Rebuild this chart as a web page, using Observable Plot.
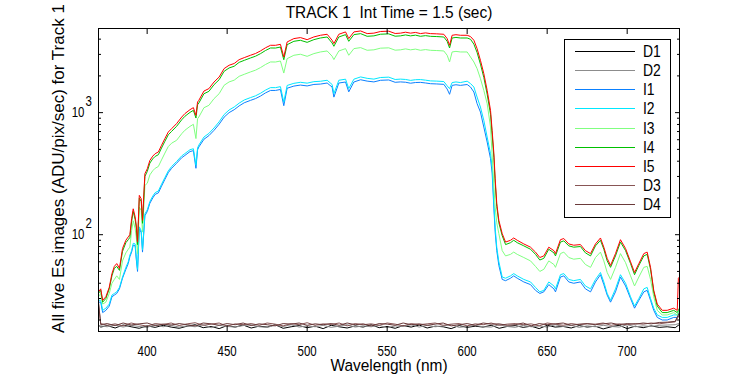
<!DOCTYPE html>
<html>
<head>
<meta charset="utf-8">
<script src="https://cdn.jsdelivr.net/npm/d3@7"></script>
<script src="https://cdn.jsdelivr.net/npm/@observablehq/plot@0.6"></script>
<style>
  html, body { margin: 0; padding: 0; background: #fff; }
  #chart { position: relative; width: 750px; height: 375px; overflow: hidden; }
  #chart > svg { position: absolute; left: 0; top: 0; }
  .legend { position: absolute; left: 564px; top: 39px; width: 107px; height: 179px; box-sizing: border-box;
    border: 1px solid #000; background: #fff; padding-top: 2px;
    font-family: "Liberation Sans", Arial, sans-serif; font-size: 17px; }
  .legend .row { display: flex; align-items: center; height: 19.15px; }
  .legend .row svg { display: block; margin-left: 10px; }
  .legend .row span { display: inline-block; margin-left: 8px; line-height: 1; transform: scaleX(0.82); transform-origin: 0 50%; }
</style>
</head>
<body>
<div id="chart"></div>
<script>
const titleText = "TRACK 1\u00a0 Int Time = 1.5 (sec)";
const xLabel = "Wavelength (nm)";
const yLabel = "All five Es images (ADU/pix/sec) for Track 1";
const xTicks = [400, 450, 500, 550, 600, 650, 700];
const yMajor = [100, 1000];
const yMinor = [20, 30, 40, 50, 60, 70, 80, 90, 200, 300, 400, 500, 600, 700, 800, 900, 2000, 3000, 4000];
const seriesNames = ["D1", "D2", "I1", "I2", "I3", "I4", "I5", "D3", "D4"];
const seriesColors = ["#000000", "#8c8c8c", "#0a80ff", "#00e8ff", "#80ff80", "#00c000", "#ff0000", "#885555", "#6b3a3a"];

const wavelength = [
369.6, 371.0, 372.2, 374.2, 376.3, 378.0, 379.5, 381.0, 382.7, 384.6,
386.7, 388.2, 389.2, 390.3, 391.3, 392.5, 393.2, 394.0, 395.1, 396.3,
397.1, 398.6, 400.1, 401.7, 403.5, 405.0, 407.0, 409.0, 411.1, 413.2,
415.3, 418.4, 421.6, 423.6, 426.8, 428.9, 430.5, 431.5, 432.3, 435.5,
438.6, 441.8, 445.0, 448.1, 451.2, 454.4, 457.5, 460.7, 464.6, 467.7,
470.8, 474.0, 477.1, 480.2, 483.3, 485.4, 487.5, 491.7, 495.8, 500.0,
504.2, 508.3, 512.5, 515.6, 516.7, 519.8, 524.0, 526.0, 529.2, 533.4,
537.5, 541.7, 545.8, 551.0, 555.0, 558.3, 561.5, 564.6, 567.7, 570.8,
574.0, 577.1, 581.0, 585.4, 587.5, 589.0, 590.6, 593.0, 595.8, 600.0,
602.1, 604.2, 606.2, 608.3, 610.4, 612.5, 614.6, 615.6, 616.7, 617.5,
618.5, 619.8, 621.9, 624.0, 627.1, 629.1, 631.3, 635.4, 639.6, 642.7,
645.4, 647.9, 651.0, 654.2, 655.2, 658.3, 660.4, 663.5, 666.6, 670.8,
673.9, 677.1, 680.2, 683.3, 685.4, 687.5, 689.6, 692.7, 695.8, 699.0,
702.1, 704.6, 707.3, 710.4, 712.5, 714.6, 716.6, 718.8, 721.9, 725.0,
729.1, 731.3, 732.0, 732.7];

const I5 = [
34, 36, 29, 31, 37, 48, 55, 58, 53, 77,
90, 96, 100, 135, 163, 140, 120, 87, 210, 197,
131, 316, 347, 406, 440, 461, 476, 540, 613, 693,
739, 813, 920, 982, 1058, 1099, 950, 1221, 1261, 1503,
1573, 1783, 1959, 2295, 2444, 2527, 2718, 2823, 2952, 3050,
3201, 3400, 3563, 3560, 3627, 2855, 3795, 4043, 4120, 3963,
4171, 4303, 4385, 3917, 3680, 4385, 4583, 4043, 4583, 4670,
4443, 4480, 4620, 4650, 4450, 4480, 4560, 4480, 4540, 4443,
4500, 4440, 4420, 4385, 4043, 3563, 4303, 4350, 4303, 4303,
4200, 3917, 3345, 2683, 2089, 1523, 1044, 715, 461, 290,
180, 131, 102, 87, 90, 94, 90, 84, 79, 72,
65, 67, 79, 74, 70, 91, 93, 84, 82, 83,
74, 70, 84, 94, 79, 64, 56, 70, 91, 77,
60, 49, 58, 70, 72, 54, 35, 27, 24, 24,
25, 24, 44, 45];

const I4 = [
33, 35, 28, 30, 36, 46, 53, 55, 51, 73,
86, 91, 95, 128, 155, 133, 114, 83, 200, 187,
124, 300, 330, 386, 418, 438, 452, 513, 582, 658,
702, 772, 874, 933, 1005, 1044, 903, 1160, 1198, 1428,
1494, 1694, 1861, 2180, 2322, 2400, 2582, 2682, 2804, 2898,
3041, 3230, 3385, 3382, 3446, 2712, 3605, 3841, 3914, 3765,
3962, 4088, 4166, 3721, 3496, 4166, 4354, 3841, 4354, 4437,
4221, 4256, 4389, 4418, 4228, 4256, 4332, 4256, 4313, 4221,
4275, 4218, 4199, 4166, 3841, 3385, 4088, 4133, 4088, 4088,
3990, 3640, 3110, 2495, 1943, 1416, 970, 665, 430, 270,
170, 125, 98, 83, 86, 90, 86, 81, 76, 69,
62, 64, 76, 71, 67, 87, 89, 81, 79, 80,
71, 67, 81, 90, 76, 61, 54, 67, 87, 74,
58, 47, 56, 67, 69, 52, 34, 26, 23, 23,
24, 23, 24, 25];

const I3 = [
31, 33, 27, 28, 33, 40, 43, 46, 43, 61,
71, 76, 79, 108, 130, 112, 96, 70, 168, 158,
105, 253, 264, 309, 334, 350, 362, 410, 466, 527,
562, 593, 672, 717, 772, 802, 613, 891, 920, 1097,
1148, 1302, 1430, 1675, 1784, 1845, 1984, 2061, 2155, 2227,
2337, 2482, 2601, 2599, 2648, 2110, 2770, 2951, 3008, 2893,
3045, 3141, 3201, 2900, 2720, 3201, 3346, 2951, 3346, 3409,
3243, 3270, 3373, 3395, 3249, 3270, 3329, 3270, 3314, 3243,
3285, 3241, 3227, 3201, 2951, 2600, 3141, 3176, 3141, 3141,
2855, 2600, 2295, 1900, 1523, 1185, 762, 450, 250, 168,
125, 102, 74, 67, 69, 72, 69, 65, 61, 55,
50, 52, 61, 57, 54, 70, 72, 65, 63, 64,
57, 54, 65, 72, 61, 49, 43, 54, 70, 59,
46, 38, 45, 54, 55, 43, 31, 24, 22, 22,
23, 22, 23, 24];

const I2 = [
29, 29, 24, 25, 27, 32, 33, 34, 37, 45,
54, 60, 68, 74, 85, 84, 66, 52, 116, 108,
75, 148, 160, 187, 207, 221, 228, 259, 294, 333,
362, 398, 442, 462, 497, 506, 370, 513, 542, 631,
676, 749, 842, 964, 1051, 1112, 1196, 1270, 1328, 1373,
1440, 1530, 1603, 1602, 1632, 1221, 1670, 1738, 1772, 1744,
1794, 1807, 1842, 1700, 1431, 1842, 1879, 1573, 1879, 1961,
1910, 1882, 1940, 1953, 1869, 1882, 1870, 1837, 1861, 1866,
1845, 1820, 1812, 1798, 1658, 1573, 1764, 1784, 1764, 1810,
1730, 1621, 1342, 1111, 865, 631, 461, 358, 179, 115,
79, 60, 45, 44, 46, 48, 46, 43, 41, 37,
34, 35, 41, 38, 36, 47, 48, 43, 42, 43,
38, 36, 43, 49, 41, 33, 29, 36, 47, 40,
31, 26, 30, 36, 37, 30, 25, 22, 21, 21,
22, 22, 23, 24];

const I1 = [
28, 28, 23, 24, 26, 31, 32, 33, 36, 44,
52, 58, 66, 72, 82, 81, 63, 50, 112, 104,
72, 143, 155, 181, 200, 214, 220, 250, 284, 322,
350, 385, 427, 446, 480, 488, 350, 495, 523, 605,
648, 716, 804, 918, 1000, 1057, 1136, 1205, 1260, 1303,
1366, 1452, 1520, 1520, 1548, 1140, 1585, 1650, 1682, 1655,
1702, 1714, 1748, 1620, 1340, 1748, 1782, 1480, 1782, 1860,
1812, 1785, 1840, 1852, 1772, 1785, 1774, 1742, 1765, 1770,
1750, 1726, 1718, 1705, 1560, 1413, 1672, 1692, 1672, 1700,
1620, 1475, 1185, 1011, 762, 574, 420, 320, 165, 105,
74, 56, 43, 42, 44, 46, 44, 41, 39, 35,
33, 34, 39, 36, 34, 45, 46, 41, 40, 41,
36, 34, 41, 47, 39, 32, 28, 34, 45, 38,
30, 25, 29, 34, 35, 29, 24, 21, 20, 20,
21, 21, 22, 23];

const darkWavelength = [
369.6, 371, 375, 380, 385, 390, 395, 400, 405, 410,
415, 420, 425, 430, 435, 440, 445, 450, 455, 460,
465, 470, 475, 480, 485, 490, 495, 500, 505, 510,
515, 520, 525, 530, 535, 540, 545, 550, 555, 560,
565, 570, 575, 580, 585, 590, 595, 600, 605, 610,
615, 620, 625, 630, 635, 640, 645, 650, 655, 660,
665, 670, 675, 680, 685, 690, 695, 700, 705, 710,
715, 720, 725, 730, 732.7];

const D1 = [
18.2, 17.5, 18.0, 17.2, 18.2, 17.6, 17.1, 17.9, 17.4, 18.1,
17.5, 17.1, 17.8, 18.3, 17.3, 17.7, 17.0, 18.0, 17.5, 18.2,
17.2, 17.8, 17.5, 18.3, 17.1, 17.6, 18.0, 17.3, 17.8, 17.0,
18.1, 17.6, 17.2, 17.9, 17.5, 18.3, 17.3, 17.7, 17.1, 18.0,
17.5, 18.2, 17.2, 17.8, 17.6, 17.0, 18.0, 17.4, 17.8, 17.5,
18.1, 17.1, 17.7, 18.0, 17.4, 17.8, 17.0, 18.1, 17.5, 17.7,
17.2, 18.0, 17.5, 17.8, 16.9, 17.6, 18.1, 17.0, 17.8, 17.3,
17.9, 17.4, 17.6, 17.3, 18.4];

const D2 = [
18.1, 17.9, 17.6, 18.2, 17.5, 18.1, 17.7, 17.4, 18.3, 17.6,
18.1, 17.5, 17.9, 17.6, 18.3, 17.3, 18.1, 17.7, 17.5, 18.0,
18.3, 17.6, 17.4, 18.1, 17.7, 18.3, 17.5, 17.9, 17.6, 18.1,
17.4, 17.8, 18.3, 17.5, 17.9, 17.6, 18.1, 17.3, 17.9, 17.7,
18.3, 17.5, 18.1, 17.6, 17.9, 18.3, 17.4, 17.7, 18.1, 17.6,
17.5, 18.3, 17.7, 17.4, 18.1, 17.6, 17.9, 17.5, 18.3, 17.7,
18.1, 17.4, 17.9, 17.6, 18.1, 17.7, 17.5, 18.3, 17.6, 17.9,
17.7, 18.1, 18.2, 18.3, 18.8];

const D3 = [
27.0, 18.7, 18.1, 18.6, 17.9, 18.9, 18.3, 17.8, 18.7, 18.4,
18.9, 18.0, 18.6, 19.0, 18.1, 18.5, 18.9, 17.8, 18.6, 18.3,
18.7, 18.1, 18.9, 18.5, 17.9, 18.7, 18.3, 19.0, 18.1, 18.6,
18.4, 18.9, 17.9, 18.7, 18.3, 18.6, 18.1, 18.9, 18.5, 17.9,
18.7, 18.3, 18.6, 18.9, 18.1, 18.5, 18.7, 17.9, 18.6, 18.3,
18.9, 18.1, 18.5, 18.7, 18.3, 18.6, 17.9, 18.9, 18.5, 18.1,
18.7, 18.3, 18.6, 18.5, 18.9, 18.1, 18.6, 18.3, 18.7, 18.5,
18.9, 18.6, 19.0, 19.3, 22.0];

const D4 = [
28.0, 18.3, 18.7, 18.0, 18.9, 18.2, 18.6, 18.9, 18.0, 18.5,
18.2, 18.7, 18.3, 17.9, 18.9, 18.6, 18.1, 18.7, 18.3, 18.9,
18.0, 18.6, 18.3, 17.9, 18.7, 18.5, 18.9, 18.1, 18.6, 18.3,
18.7, 18.1, 18.9, 18.3, 18.6, 17.9, 18.7, 18.5, 18.1, 18.9,
18.3, 18.6, 18.1, 18.5, 18.9, 17.9, 18.3, 18.7, 18.1, 18.9,
18.5, 18.6, 18.1, 18.3, 18.9, 17.9, 18.7, 18.3, 18.6, 18.9,
18.1, 18.5, 18.7, 18.3, 18.6, 18.9, 18.3, 18.7, 18.5, 18.9,
18.6, 19.1, 19.2, 19.5, 23.0];

const seriesData = {
  D1: [darkWavelength, D1], D2: [darkWavelength, D2],
  I1: [wavelength, I1], I2: [wavelength, I2], I3: [wavelength, I3],
  I4: [wavelength, I4], I5: [wavelength, I5],
  D3: [darkWavelength, D3], D4: [darkWavelength, D4]
};

const FONT = '"Liberation Sans", Arial, sans-serif';
// horizontal condensing per text, to mimic the narrow reference typeface
const textScale = {[titleText]: 0.91, [xLabel]: 0.91, [yLabel]: 1.0};
const TICK_SCALE = 0.82;

const lineMarks = seriesNames.map((name, i) => {
  const [xs, ys] = seriesData[name];
  return Plot.line(ys, {x: xs, y: ys, stroke: seriesColors[i], strokeWidth: 1, clip: true});
});

const noText = () => "";

const plot = Plot.plot({
  width: 750,
  height: 375,
  marginLeft: 98,
  marginRight: 71,
  marginTop: 28,
  marginBottom: 44,
  style: {fontFamily: FONT, fontSize: "14px", color: "#000", background: "transparent", overflow: "visible"},
  x: {domain: [369.6, 732.7]},
  y: {type: "log", domain: [16.1, 4890]},
  marks: [
    ...lineMarks,
    Plot.frame({stroke: "#000", strokeWidth: 1}),
    Plot.axisX({anchor: "bottom", ticks: xTicks, tickSize: -5, tickFormat: noText, label: null}),
    Plot.axisX({anchor: "top", ticks: xTicks, tickSize: -5, tickFormat: noText, label: null}),
    Plot.axisY({anchor: "left", ticks: yMajor, tickSize: -5, tickFormat: noText, label: null}),
    Plot.axisY({anchor: "right", ticks: yMajor, tickSize: -5, tickFormat: noText, label: null}),
    Plot.axisY({anchor: "left", ticks: yMinor, tickSize: -3, tickFormat: noText, label: null}),
    Plot.axisY({anchor: "right", ticks: yMinor, tickSize: -3, tickFormat: noText, label: null}),
    Plot.text(xTicks, {x: d => d, frameAnchor: "bottom", dy: 20.5, lineAnchor: "middle", textAnchor: "middle", text: d => String(d), fontSize: 14, fill: "#000"}),
    Plot.text(yMajor, {y: d => d, frameAnchor: "left", dx: -14, lineAnchor: "middle", textAnchor: "end", text: () => "10", fontSize: 14, fill: "#000"}),
    Plot.text(yMajor, {y: d => d, frameAnchor: "left", dx: -13, dy: -11, lineAnchor: "middle", textAnchor: "start", text: d => String(Math.round(Math.log10(d))), fontSize: 14, fill: "#000"}),
    Plot.text([titleText], {frameAnchor: "top", dy: -16, lineAnchor: "middle", textAnchor: "middle", text: d => d, fontSize: 17, fill: "#000"}),
    Plot.text([xLabel], {frameAnchor: "bottom", dy: 34, lineAnchor: "middle", textAnchor: "middle", text: d => d, fontSize: 17, fill: "#000"}),
    Plot.text([yLabel], {frameAnchor: "left", rotate: -90, dx: -40, dy: -11.5, lineAnchor: "middle", textAnchor: "middle", text: d => d, fontSize: 17, fill: "#000"})
  ]
});

d3.select(plot).selectAll("text").each(function () {
  const content = this.textContent;
  if (!content) return;
  const s = textScale[content] ?? TICK_SCALE;
  if (s === 1) return;
  const xAttr = this.getAttribute("x");
  const x = xAttr != null && /^-?[\d.]+$/.test(xAttr) ? +xAttr : 0;
  const t = this.getAttribute("transform") || "";
  if (x !== 0) this.removeAttribute("x");
  this.setAttribute("transform", `${t}${x !== 0 ? ` translate(${x},0)` : ""} scale(${s},1)`.trim());
});

const chart = document.getElementById("chart");
chart.appendChild(plot);

const legend = document.createElement("div");
legend.className = "legend";
seriesNames.forEach((name, i) => {
  const row = document.createElement("div");
  row.className = "row";
  row.innerHTML = `<svg width="60" height="3"><line x1="0" x2="60" y1="1.5" y2="1.5" stroke="${seriesColors[i]}" stroke-width="1"/></svg><span>${name}</span>`;
  legend.appendChild(row);
});
chart.appendChild(legend);
</script>
</body>
</html>
